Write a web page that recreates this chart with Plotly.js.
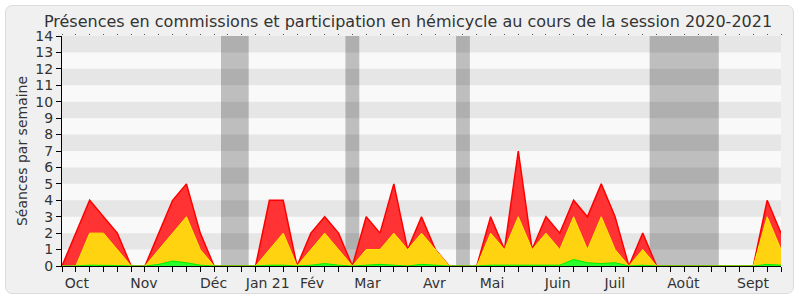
<!DOCTYPE html>
<html>
<head>
<meta charset="utf-8">
<script src="https://cdn.plot.ly/plotly-3.0.1.min.js"></script>
<style>
  html, body { margin: 0; padding: 0; background: #ffffff; }
  #frame { position: absolute; left: 5px; top: 5px; width: 787px; height: 287px;
           background: #f0f0f0; border: 1px solid #dcdcdc; border-radius: 7px; }
  #chart { position: absolute; left: 0; top: 0; width: 800px; height: 300px; }
</style>
</head>
<body>
<div id="frame"></div>
<div id="chart"></div>
<script>
// Week index (0 = first week of the session)
const weeks = Array.from({length: 53}, (_, i) => i);

// Total (red), hemicycle/commission (yellow), green series
const redVals = [0,2,4,3,2,0,0,2,4,5,2,0,0,0,0,4,4,0,2,3,2,0,3,2,5,1,3,1,0,0,0,3,1,7,1,3,2,4,3,5,3,0,2,0,0,0,0,0,0,0,0,4,2];
const yellowVals = [0,0,2,2,1,0,0,1,2,3,1,0,0,0,0,1,2,0,1,2,1,0,1,1,2,1,2,1,0,0,0,2,1,3,1,2,1,3,1,3,1,0,1,0,0,0,0,0,0,0,0,3,1];
const greenVals = [0,0,0.05,0.05,0.03,0,0,0.1,0.3,0.2,0.05,0,0,0,0,0.05,0.05,0,0.05,0.15,0.05,0,0.05,0.1,0.05,0,0.1,0.03,0,0,0,0.05,0.05,0.05,0.05,0.05,0.05,0.4,0.2,0.15,0.2,0,0.05,0,0,0,0,0,0,0,0,0.1,0.05];

// Month labels and their positions (week units)
const monthLabels = ["Oct","Nov","Déc","Jan 21","Fév","Mar","Avr","Mai","Juin","Juil","Août","Sept"];
const monthPos = [1.08,5.93,10.96,14.88,18.08,22.09,26.93,31.1,35.85,39.98,44.94,49.97];

// Parliamentary holidays (week units)
const vacStart = [11.5, 20.5, 28.5, 42.5];
const vacEnd   = [13.5, 21.5, 29.5, 47.5];

const yTicks = [0,1,2,3,4,5,6,7,8,9,10,11,12,13,14];

const shapes = [];
for (let i = 0; i < vacStart.length; i++) {
  shapes.push({type: 'rect', xref: 'x', yref: 'paper', x0: vacStart[i], x1: vacEnd[i], y0: 0, y1: 1,
               fillcolor: '#bebebe', line: {width: 0}, layer: 'below'});
}
for (let k = 1; k < 14; k += 2) {
  shapes.push({type: 'rect', xref: 'paper', yref: 'y', x0: 0, x1: 1, y0: yTicks[k], y1: yTicks[k+1],
               fillcolor: 'rgba(0,0,0,0.075)', line: {width: 0}, layer: 'below'});
}

const font = "DejaVu Sans, Verdana, sans-serif";

const traces = [
  {x: weeks, y: redVals, type: 'scatter', mode: 'lines', fill: 'tozeroy',
   fillcolor: '#ff3333', line: {color: '#ff0000', width: 1.5}, hoverinfo: 'skip'},
  {x: weeks, y: yellowVals, type: 'scatter', mode: 'lines', fill: 'tozeroy',
   fillcolor: '#ffd30f', line: {color: '#ffee00', width: 1}, hoverinfo: 'skip'},
  {x: weeks, y: greenVals, type: 'scatter', mode: 'lines', fill: 'tozeroy',
   fillcolor: '#2bff2b', line: {color: '#00ee00', width: 1}, hoverinfo: 'skip'},
  {x: [monthPos[0]], y: [0], xaxis: 'x2', type: 'scatter', mode: 'markers',
   marker: {opacity: 0}, hoverinfo: 'skip'},
  {x: [weeks[0]], y: [0], xaxis: 'x3', type: 'scatter', mode: 'markers',
   marker: {opacity: 0}, hoverinfo: 'skip'}
];

const layout = {
  width: 800, height: 300,
  margin: {l: 62, r: 19, t: 36, b: 34},
  paper_bgcolor: 'rgba(0,0,0,0)',
  plot_bgcolor: '#f9f9f9',
  showlegend: false,
  font: {family: font, color: '#333', size: 14},
  title: {text: 'Présences en commissions et participation en hémicycle au cours de la session 2020-2021',
          font: {family: font, size: 16, color: '#333'},
          x: 0.51, xref: 'container', xanchor: 'center',
          y: 0.93, yref: 'container', yanchor: 'middle'},
  xaxis: {range: [0, 52], tickvals: weeks, showticklabels: false, ticks: 'outside', ticklen: 5,
          tickcolor: '#000', showline: true, linecolor: '#000', linewidth: 1,
          showgrid: false, zeroline: false, fixedrange: true},
  xaxis2: {range: [0, 52], overlaying: 'x', anchor: 'y', side: 'bottom',
           tickvals: monthPos, ticktext: monthLabels, ticks: 'outside', ticklen: 4,
           tickcolor: 'rgba(0,0,0,0)', showline: false, showgrid: false, zeroline: false,
           tickfont: {family: font, size: 14, color: '#333'}},
  xaxis3: {range: [0, 52], overlaying: 'x', anchor: 'y', side: 'top',
           tickvals: weeks, showticklabels: false, ticks: 'outside', ticklen: 1,
           tickcolor: '#555', showline: false, showgrid: false, zeroline: false},
  yaxis: {range: [0, 14], tickvals: yTicks, ticks: 'outside', ticklen: 5, tickcolor: '#000',
          showline: true, linecolor: '#000', linewidth: 1, showgrid: false, zeroline: false,
          tickfont: {family: font, size: 14, color: '#333'},
          title: {text: 'Séances par semaine', font: {family: font, size: 14, color: '#333'}, standoff: 4},
          fixedrange: true},
  shapes: shapes
};

Plotly.newPlot('chart', traces, layout, {displayModeBar: false, staticPlot: true});
</script>
</body>
</html>
